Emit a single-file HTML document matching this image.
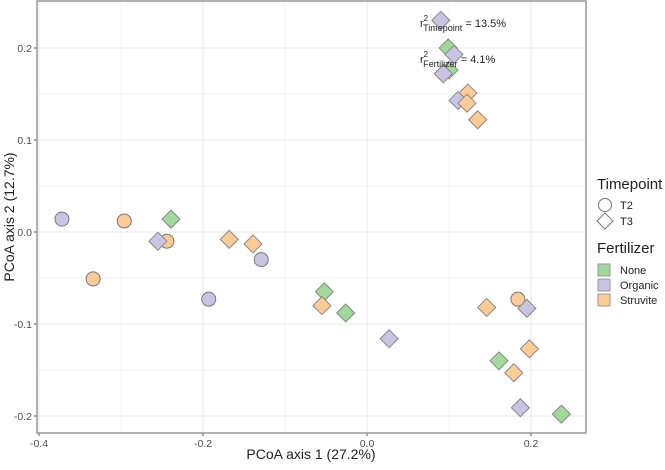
<!DOCTYPE html>
<html><head><meta charset="utf-8"><style>
body{margin:0;background:#fff;font-family:"Liberation Sans",Arial,sans-serif}
svg text{font-family:"Liberation Sans",Arial,sans-serif}
</style></head><body>
<svg id="chart" width="665" height="465">
<g id="grid"></g><g id="pts"></g><g id="axes"></g>
<g font-size="11" fill="#222">
<text x="420" y="27">r<tspan dy="-6" font-size="8">2</tspan><tspan dx="-5" dy="10" font-size="9">Timepoint</tspan><tspan dy="-4"> = 13.5%</tspan></text>
<text x="420" y="63">r<tspan dy="-6" font-size="8">2</tspan><tspan dx="-5" dy="10" font-size="9">Fertilizer</tspan><tspan dy="-4"> = 4.1%</tspan></text>
</g>
<text x="311" y="459" font-size="14" text-anchor="middle" fill="#222">PCoA axis 1 (27.2%)</text>
<text transform="translate(14,217) rotate(-90)" font-size="14" text-anchor="middle" fill="#222">PCoA axis 2 (12.7%)</text>
<g fill="#222">
<text x="597" y="189" font-size="15">Timepoint</text>
<circle cx="605" cy="205" r="6.5" fill="#fff" stroke="#777"/>
<text x="620" y="209" font-size="11">T2</text>
<path d="M605,213 L613,221 L605,229 L597,221Z" fill="#fff" stroke="#777"/>
<text x="620" y="225" font-size="11">T3</text>
<text x="597" y="253" font-size="15">Fertilizer</text>
<rect x="598" y="264" width="12" height="12" fill="#a1d99b" stroke="#999"/>
<text x="620" y="274" font-size="11">None</text>
<rect x="598" y="279" width="12" height="12" fill="#cbc3e3" stroke="#999"/>
<text x="620" y="289" font-size="11">Organic</text>
<rect x="598" y="294" width="12" height="12" fill="#fdcb95" stroke="#999"/>
<text x="620" y="304" font-size="11">Struvite</text>
</g>
</svg>
<script>
const xs=[-0.372,-0.296,-0.334,-0.244,-0.193,-0.129,0.184,-0.239,-0.255,-0.168,-0.139,-0.052,-0.055,-0.026,0.027,0.146,0.195,0.161,0.198,0.179,0.187,0.237,0.090,0.099,0.106,0.100,0.093,0.123,0.111,0.122,0.135];
const ys=[0.014,0.012,-0.051,-0.010,-0.073,-0.030,-0.073,0.014,-0.010,-0.008,-0.013,-0.065,-0.080,-0.088,-0.116,-0.082,-0.083,-0.140,-0.127,-0.153,-0.191,-0.198,0.230,0.200,0.193,0.176,0.172,0.151,0.143,0.140,0.122];
const timepoints=["T2","T2","T2","T2","T2","T2","T2","T3","T3","T3","T3","T3","T3","T3","T3","T3","T3","T3","T3","T3","T3","T3","T3","T3","T3","T3","T3","T3","T3","T3","T3"];
const fertilizers=["Organic","Struvite","Struvite","Struvite","Organic","Organic","Struvite","None","Organic","Struvite","Struvite","None","Struvite","None","Organic","Struvite","Organic","None","Struvite","Struvite","Organic","None","Organic","None","Organic","None","Organic","Struvite","Organic","Struvite","Struvite"];
const xTicks=[-0.4,-0.2,0.0,0.2];
const xTickLabels=["-0.4","-0.2","0.0","0.2"];
const yTicks=[-0.2,-0.1,0.0,0.1,0.2];
const yTickLabels=["-0.2","-0.1","0.0","0.1","0.2"];
const colors={None:"#a1d99b",Organic:"#cbc3e3",Struvite:"#fdcb95"};
const L=37,R=586,T=1,B=433;
const X=v=>367+820*v, Y=v=>232-920*v;
const NS="http://www.w3.org/2000/svg";
function mk(tag,attrs,parent){const e=document.createElementNS(NS,tag);for(const k in attrs)e.setAttribute(k,attrs[k]);parent.appendChild(e);return e;}
const grid=document.getElementById('grid'),axes=document.getElementById('axes'),pts=document.getElementById('pts');
mk('rect',{x:L,y:T,width:R-L,height:B-T,fill:'#fff'},grid);
for(let v=-0.4;v<=0.25;v+=0.1){const l=mk('line',{x1:X(v),x2:X(v),y1:T,y2:B,stroke:'#f4f4f4'},grid);

}
for(let v=-0.2;v<=0.251;v+=0.05){const l=mk('line',{x1:L,x2:R,y1:Y(v),y2:Y(v),stroke:'#f4f4f4'},grid);

}
xTicks.forEach((v,i)=>{mk('line',{x1:X(v),x2:X(v),y1:T,y2:B,stroke:'#e8e8e8'},grid);
const t=mk('text',{x:X(v),y:B+14,'font-size':10.5,fill:'#4d4d4d','text-anchor':'middle'},axes);t.textContent=xTickLabels[i];


mk('line',{x1:X(v),x2:X(v),y1:B,y2:B+3,stroke:'#555'},axes);});
yTicks.forEach((v,i)=>{mk('line',{x1:L,x2:R,y1:Y(v),y2:Y(v),stroke:'#e8e8e8'},grid);
const t=mk('text',{x:L-5,y:Y(v)+4,'font-size':10.5,fill:'#4d4d4d','text-anchor':'end'},axes);t.textContent=yTickLabels[i];


mk('line',{x1:L-3,x2:L,y1:Y(v),y2:Y(v),stroke:'#555'},axes);});
const fr=mk('rect',{x:L,y:T,width:R-L,height:B-T,fill:'none',stroke:'#999','stroke-width':1.5},axes);


xs.forEach((xv,i)=>{const cx=X(xv),cy=Y(ys[i]);let e;
if(timepoints[i]==="T2"){e=mk('circle',{cx:cx,cy:cy,r:7,fill:colors[fertilizers[i]],stroke:'#777'},pts);}
else{e=mk('path',{d:`M${cx},${cy-9} L${cx+9},${cy} L${cx},${cy+9} L${cx-9},${cy}Z`,fill:colors[fertilizers[i]],stroke:'#888'},pts);}

});
</script>
</body></html>
